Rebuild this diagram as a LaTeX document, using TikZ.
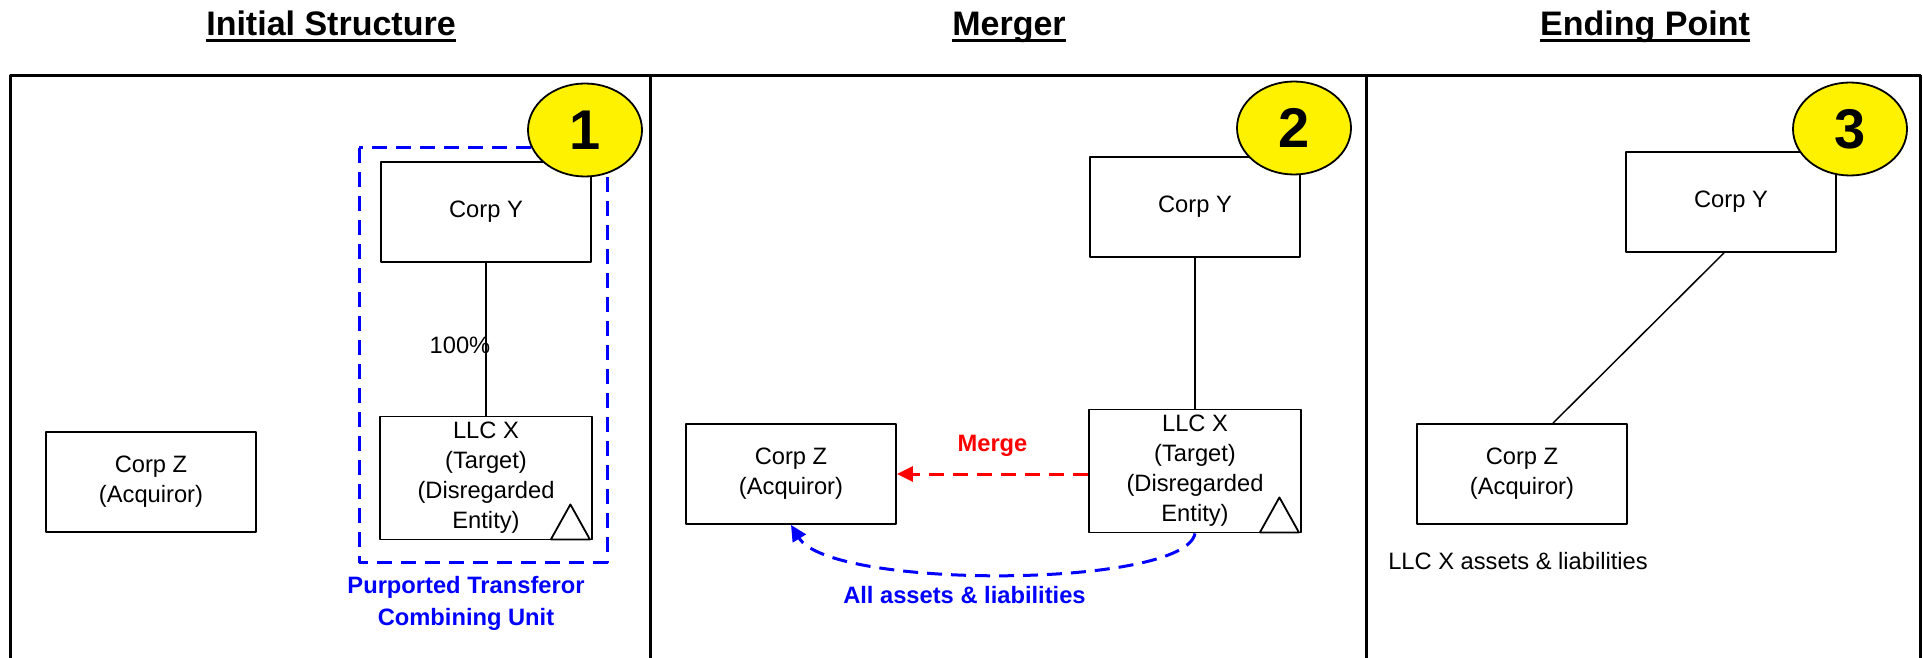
\documentclass[tikz,border=0pt]{standalone}
\usepackage{fontspec}
\setmainfont{Liberation Sans}
\usetikzlibrary{arrows.meta,shapes.geometric}

\begin{document}
\begin{tikzpicture}[x=0.5pt,y=-0.5pt,line join=round,
	font=\fontsize{11.85}{15}\selectfont,
	box/.style={draw,line width=0.9pt,minimum width=105pt,minimum height=50pt,align=center,inner sep=2pt},
	llc/.style={box,minimum width=106pt,minimum height=61.5pt},
	badge/.style={ellipse,draw,line width=0.9pt,fill=yellow,minimum width=57pt,minimum height=46.5pt,inner sep=0pt,font=\fontsize{28}{28}\selectfont\bfseries},
	frame/.style={line width=1.5pt},
	title/.style={anchor=base,inner sep=0pt,font=\fontsize{17}{20}\selectfont\bfseries},
	flow/.style={line width=1.5pt,dash pattern=on 7.5pt off 4.5pt,-{Triangle[length=8pt,width=7.5pt]}},
	note/.style={inner sep=0pt,align=center,font=\fontsize{11.85}{16}\selectfont\bfseries}]
	\useasboundingbox (0,0) rectangle (1923,658);
	\draw[frame] (10,658) -- (10,76) -- (1920,76) -- (1920,658)
	(650,76) -- (650,658) (1366,76) -- (1366,658);
	\foreach \n/\x/\t in {t1/331/Initial Structure,t2/1009/Merger,t3/1645/Ending Point}{
		\node[title] (\n) at (\x,35.7) {\t};
		\draw[line width=1.3pt] ([yshift=-2.5pt]\n.base west) -- ([yshift=-2.5pt]\n.base east);
	}
	% initial structure
	\node[box] (cy1) at (486,212) {Corp Y};
	\node[llc] (llc1) at (486,478) {LLC X\\(Target)\\(Disregarded\\Entity)};
	\node[box] (cz1) at (151,482) {Corp Z\\(Acquiror)};
	\draw[line width=0.75pt] (cy1) -- (llc1) node[pos=0.54,xshift=-13pt]{100\%};
	\draw[blue,line width=1.5pt,dash pattern=on 7.5pt off 4.5pt] (359,148) rectangle (607,562);
	\node[note,text=blue] (ptu) at (466,603) {Purported Transferor\\Combining Unit};
	% merger
	\node[box] (cy2) at (1195,207) {Corp Y};
	\node[llc] (llc2) at (1195,471) {LLC X\\(Target)\\(Disregarded\\Entity)};
	\node[box] (cz2) at (791,474) {Corp Z\\(Acquiror)};
	\draw[line width=0.75pt] (cy2) -- (llc2);
	\draw[flow,red] (llc2.west |- cz2.east) -- (cz2.east) node[midway,above=8pt,note]{Merge};
	\draw[flow,blue] (llc2.south) .. controls +(-10,55) and +(40,65) .. (cz2.south)
	node[pos=0.57,below=6pt,note]{All assets \& liabilities};
	\foreach \b in {llc1,llc2}
	\draw[line width=0.9pt] ([shift={(-42,-1)}]\b.south east) -- ([shift={(-3,-1)}]\b.south east) -- ([shift={(-22.5,-36)}]\b.south east) -- cycle;
	% ending point
	\node[box] (cy3) at (1731,202) {Corp Y};
	\node[box] (cz3) at (1522,474) {Corp Z\\(Acquiror)};
	\draw[line width=0.75pt] ([xshift=-3.5pt]cy3.south) -- ([xshift=15.5pt]cz3.north);
	\node (llcx) at (1518,561) {LLC X assets \& liabilities};
	\foreach \n/\x/\y in {1/585/130,2/1294/128,3/1850/129}
	\node[badge] (e\n) at (\x,\y) {\n};
\end{tikzpicture}
\end{document}
